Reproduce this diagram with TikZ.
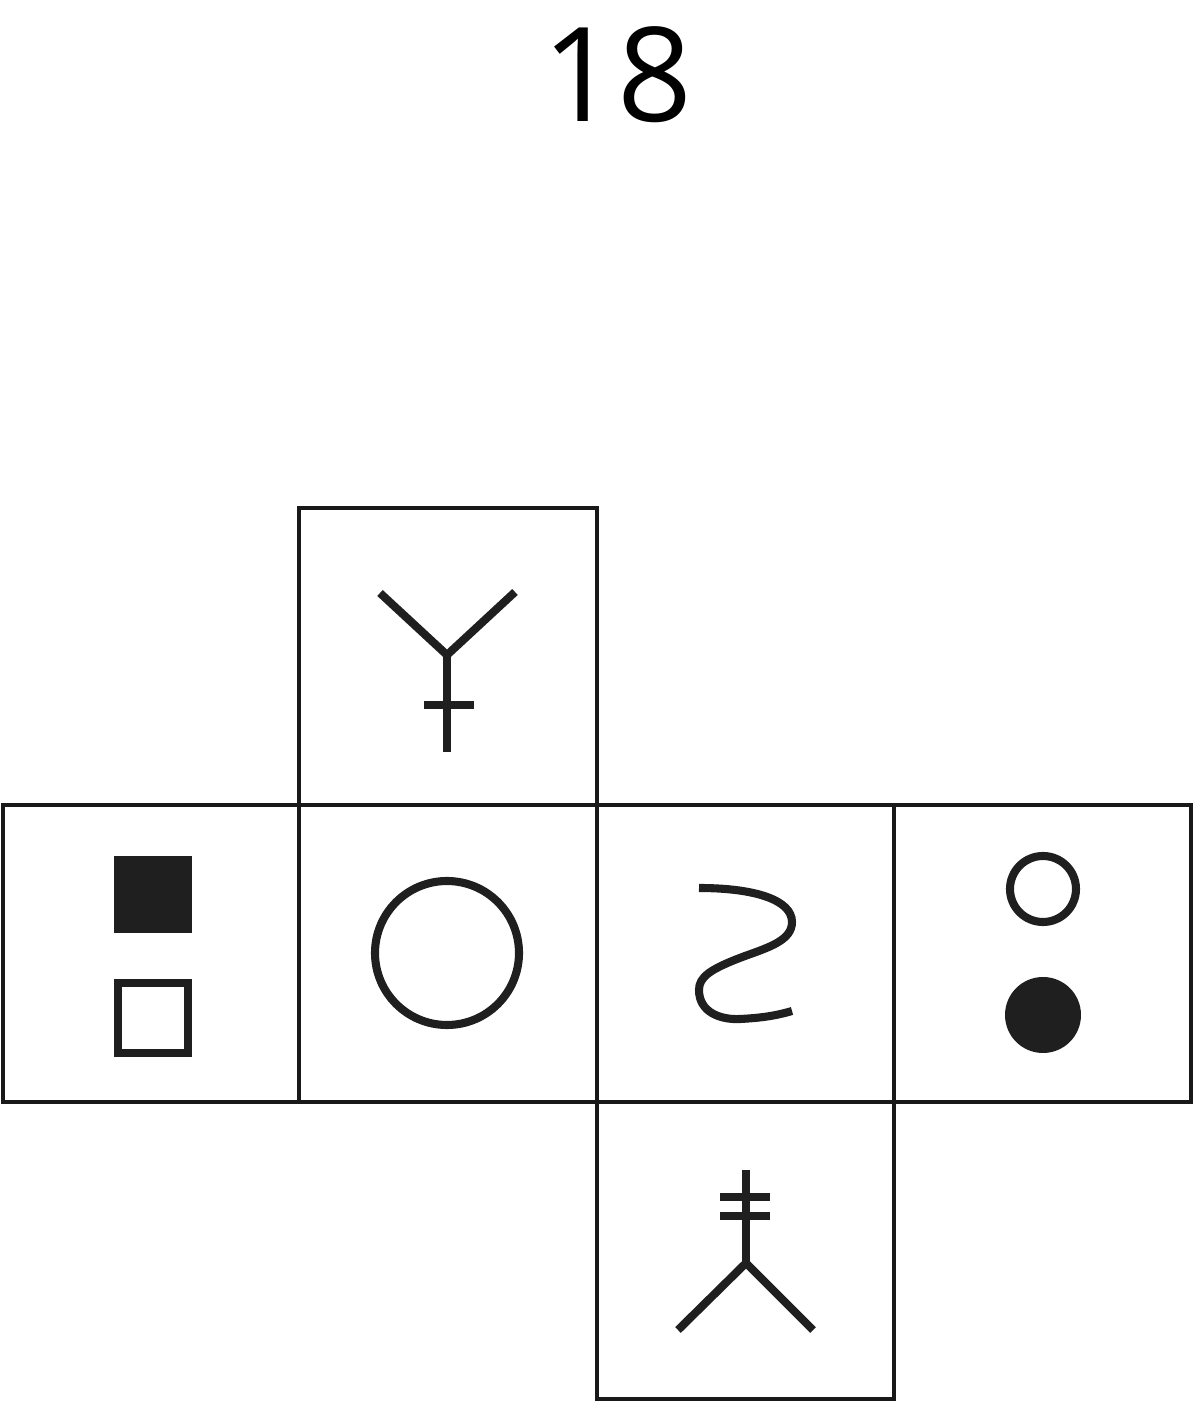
\documentclass[tikz,border=0pt]{standalone}
\usepackage{fontspec}
\setmainfont{Open Sans}
\usepackage{tikz}
\usetikzlibrary{calc}

\begin{document}
\begin{tikzpicture}[
    face/.style={line width=1.1pt,draw=black!90},
    glyph/.style={line width=2.3pt,draw=black!88},
  ]
    \useasboundingbox (0,0) rectangle (11.94,14.02);

    \node[anchor=base,inner sep=0pt] (title) at (6.17,12.80) {\fontsize{37.3}{40}\selectfont 18};

    % the net of the cube
    \draw[face] (2.99,5.97) rectangle (5.97,8.94);
    \draw[face] (0.03,3.00) rectangle (2.99,5.97);
    \draw[face] (2.99,3.00) rectangle (5.97,5.97);
    \draw[face] (5.97,3.00) rectangle (8.94,5.97);
    \draw[face] (8.94,3.00) rectangle (11.91,5.97);
    \draw[face] (5.97,0.03) rectangle (8.94,3.00);

    % top face
    \draw[glyph] (3.80,8.09) -- (4.47,7.47) -- (5.15,8.10);
    \draw[glyph] (4.47,7.47) -- (4.47,6.50);
    \draw[glyph] (4.24,6.97) -- (4.74,6.97);

    % left face
    \fill[black!88] (1.14,4.69) rectangle (1.92,5.46);
    \draw[glyph] (1.18,3.49) rectangle (1.88,4.19);

    % centre face
    \draw[glyph] (4.47,4.49) circle[radius=.72cm];

    % third face
    \draw[glyph] (6.99,5.14) .. controls (7.55,5.14) and (7.92,5.02) .. (7.92,4.80)
      .. controls (7.92,4.62) and (7.70,4.55) .. (7.45,4.46)
      .. controls (7.10,4.33) and (6.99,4.25) .. (6.99,4.12)
      .. controls (6.99,3.90) and (7.20,3.82) .. (7.40,3.83)
      .. controls (7.60,3.84) and (7.75,3.86) .. (7.92,3.91);

    % right face
    \draw[glyph] (10.43,5.13) circle[radius=.33cm];
    \fill[black!88] (10.43,3.87) circle[radius=.38cm];

    % bottom face
    \draw[glyph] (7.46,2.32) -- (7.46,1.39);
    \draw[glyph] (6.78,0.72) -- (7.46,1.39) -- (8.13,0.72);
    \draw[glyph] (7.20,2.05) -- (7.70,2.05);
    \draw[glyph] (7.20,1.86) -- (7.70,1.86);
  \end{tikzpicture}
\end{document}
